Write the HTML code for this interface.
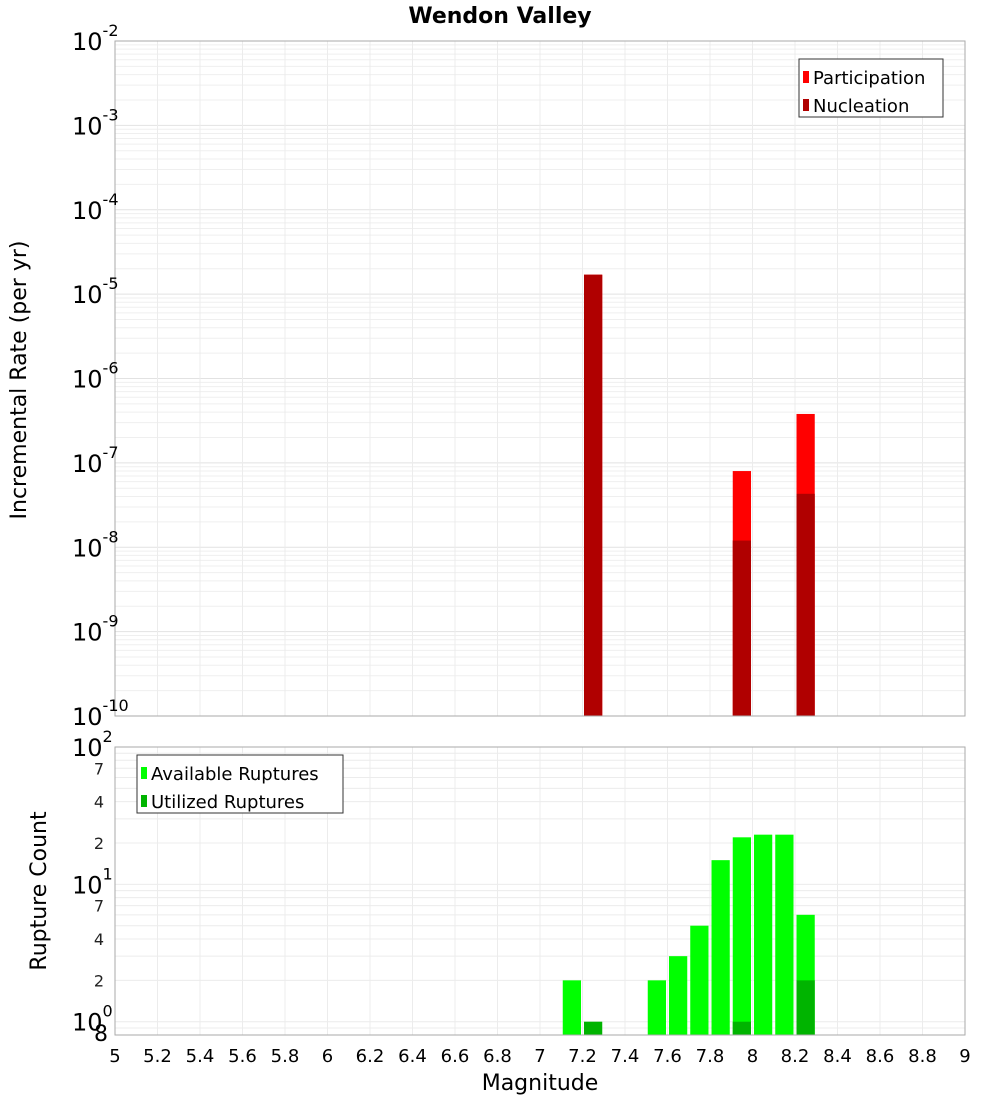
<!DOCTYPE html>
<html><head><meta charset="utf-8"><style>
body{margin:0;background:#fff;}
svg{display:block;font-family:"DejaVu Sans","Liberation Sans",sans-serif;}
</style></head><body>
<svg id="c" width="1000" height="1100" xmlns="http://www.w3.org/2000/svg"></svg>
<script>
const topMags=[7.25,7.95,8.25];
const participation=[1.7e-5,8.0e-8,3.8e-7];
const nucleation=[1.7e-5,1.2e-8,4.3e-8];
const botMags=[7.15,7.25,7.55,7.65,7.75,7.85,7.95,8.05,8.15,8.25];
const available=[2,0,2,3,5,15,22,23,23,6];
const utilized=[0,1,0,0,0,0,1,0,0,2];
const xTicks=[5,5.2,5.4,5.6,5.8,6,6.2,6.4,6.6,6.8,7,7.2,7.4,7.6,7.8,8,8.2,8.4,8.6,8.8,9];
const topExps=[-2,-3,-4,-5,-6,-7,-8,-9,-10];
const botMinor=[2,4,7];

const svg=document.getElementById('c');const NS='http://www.w3.org/2000/svg';
function mk(t,a,txt){const e=document.createElementNS(NS,t);for(const k in a)e.setAttribute(k,a[k]);if(txt!==undefined)e.textContent=txt;svg.appendChild(e);return e;}
const X0=115,X1=965;
const x=m=>X0+(m-5)/4*(X1-X0);
const T0=41,T1=716;
const yT=v=>T0+(-2-Math.log10(v))/8*(T1-T0);
const B0=747,B1=1035,bMin=Math.log10(0.8),bMax=2;
const yB=v=>B1-(Math.log10(v)-bMin)/(bMax-bMin)*(B1-B0);

// grids
let g;
for(let e=-10;e<-2;e++)for(let k=1;k<10;k++){const y=yT(k*Math.pow(10,e));g=mk('line',{x1:X0,x2:X1,y1:y,y2:y,stroke:k==1?'#e2e2e2':'#efefef','stroke-width':1});}
for(let e=-1;e<2;e++)for(let k=1;k<10;k++){const v=k*Math.pow(10,e);if(v<0.8)continue;const y=yB(v);g=mk('line',{x1:X0,x2:X1,y1:y,y2:y,stroke:'#ececec','stroke-width':1});}
xTicks.forEach(t=>{const xx=x(t);
g=mk('line',{x1:xx,x2:xx,y1:T0,y2:T1,stroke:'#ececec'});
g=mk('line',{x1:xx,x2:xx,y1:B0,y2:B1,stroke:'#ececec'});});

// top bars
const bw=0.1*(X1-X0)/4-3;
topMags.forEach((m,i)=>{
let r=mk('rect',{x:x(m)-bw/2,y:yT(participation[i]),width:bw,height:T1-yT(participation[i]),fill:'#ff0000'});

r=mk('rect',{x:x(m)-bw/2,y:yT(nucleation[i]),width:bw,height:T1-yT(nucleation[i]),fill:'#b00000'});
});
botMags.forEach((m,i)=>{
if(available[i]>0){let r=mk('rect',{x:x(m)-bw/2,y:yB(available[i]),width:bw,height:B1-yB(available[i]),fill:'#00ff00'});
}
if(utilized[i]>0){let r=mk('rect',{x:x(m)-bw/2,y:yB(utilized[i]),width:bw,height:B1-yB(utilized[i]),fill:'#00b400'});
}});

// frames
g=mk('rect',{x:X0,y:T0,width:X1-X0,height:T1-T0,fill:'none',stroke:'#aaa'});
g=mk('rect',{x:X0,y:B0,width:X1-X0,height:B1-B0,fill:'none',stroke:'#aaa'});

// top y labels
topExps.forEach(e=>{const y=yT(Math.pow(10,e));
const t=mk('text',{x:72,y:y+9,'font-size':24,fill:'#000'});
t.textContent='10';const s=document.createElementNS(NS,'tspan');s.setAttribute('dy',-14);s.setAttribute('font-size',16);s.textContent=String(e);t.appendChild(s);});
// bottom y labels
[[100,'2'],[10,'1'],[1,'0']].forEach(([v,e])=>{const y=yB(v);
const t=mk('text',{x:72,y:y+9,'font-size':24,fill:'#000'});
t.textContent='10';const s=document.createElementNS(NS,'tspan');s.setAttribute('dy',-14);s.setAttribute('font-size',16);s.textContent=e;t.appendChild(s);});
[10,1].forEach(d=>botMinor.forEach(k=>{const t=mk('text',{x:104,y:yB(k*d)+6,'font-size':16,fill:'#222','text-anchor':'end'},String(k));}));
g=mk('text',{x:108,y:1041,'font-size':22,fill:'#000','text-anchor':'end'},'8');
xTicks.forEach(t=>{const e=mk('text',{x:x(t),y:1062,'font-size':18,fill:'#000','text-anchor':'middle'},String(t));});

g=mk('text',{x:500,y:23,'font-size':22,'font-weight':'bold','text-anchor':'middle'},'Wendon Valley');
g=mk('text',{x:540,y:1090,'font-size':22,'text-anchor':'middle'},'Magnitude');
g=mk('text',{x:0,y:0,'font-size':22,'text-anchor':'middle',transform:'translate(26,380) rotate(-90)'},'Incremental Rate (per yr)');
g=mk('text',{x:0,y:0,'font-size':22,'text-anchor':'middle',transform:'translate(46,891) rotate(-90)'},'Rupture Count');

// legends
function legend(x0,y0,w,items,name){
const r=mk('rect',{x:x0,y:y0,width:w,height:58,fill:'#fff',stroke:'#333'});
items.forEach(([c,l],i)=>{const yy=y0+18+i*28;
let s=mk('rect',{x:x0+4,y:yy-6,width:6,height:12,fill:c});
let t=mk('text',{x:x0+14,y:yy+7,'font-size':18},l);});}
legend(799,59,144,[['#ff0000','Participation'],['#b00000','Nucleation']],'top-legend');
legend(137,755,206,[['#00ff00','Available Ruptures'],['#00b400','Utilized Ruptures']],'bottom-legend');
</script>
</body></html>
